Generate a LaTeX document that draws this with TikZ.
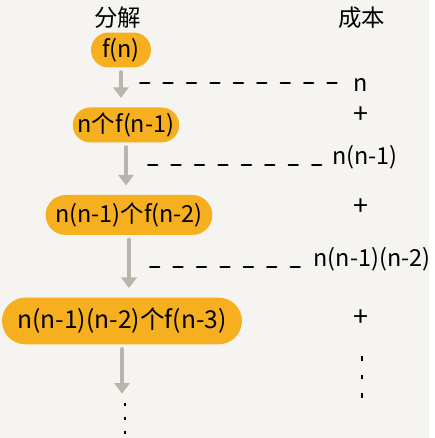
\documentclass[tikz,border=0pt]{standalone}
\usepackage{fontspec}
\setmainfont{Noto Sans CJK SC}
\usetikzlibrary{arrows.meta,shapes.misc}
\definecolor{paper}{HTML}{F5F4F0}
\definecolor{blobcol}{HTML}{F6AF1E}
\definecolor{arrcol}{HTML}{B7B5AC}
\begin{document}
\begin{tikzpicture}[x=0.3mm, y=-0.3mm, font=\fontsize{20}{24}\selectfont, line cap=round,
  blob/.style={fill=blobcol, rounded rectangle, inner sep=0pt},
  down/.style={arrcol, line width=3.8pt, -{Triangle[width=13pt,length=9pt]}, shorten <=4pt, shorten >=8pt},
  costline/.style={dash pattern=on 8pt off 12pt, line width=1.6pt, shorten >=2pt},
  dots/.style={line cap=butt, line width=1.8pt}]
\fill[paper] (0,0) rectangle (429,438);
% headings
\node (h1) at (118,18) {分解};
\node (h2) at (362,18) {成本};
% decomposition
\node[blob, minimum width=18mm, minimum height=10.5mm] (e1) at (121,50) {f(n)};
\node[blob, minimum width=31mm, minimum height=10.5mm] (e2) at (126,125) {n个f(n-1)};
\node[blob, minimum width=50mm, minimum height=12mm] (e3) at (129,215) {n(n-1)个f(n-2)};
\node[blob, minimum width=72mm, minimum height=14mm, font=\fontsize{21}{24}\selectfont] (e4) at (122,321) {n(n-1)(n-2)个f(n-3)};
\coordinate (d) at (125,403);
\draw[down] (e1.south) -- (e1.south |- e2.north);
\draw[down] (e2.south) -- (e2.south |- e3.north);
\draw[down] (e3.south) -- (e3.south |- e4.north);
\draw[down] (e4.south) -- (e4.south |- d);
\draw[dots, dash pattern=on 2.5pt off 9.5pt] (d) -- ++(0,34);
% cost
\node (c1) at (361,85) {n};
\node (c2) at (365,157) {n(n-1)};
\node (c3) at (372,259) {n(n-1)(n-2)};
\foreach \y [count=\i] in {115,207,318}
  \node[font=\fontsize{23}{24}\selectfont] (p\i) at (361,\y) {+};
\coordinate (s1) at (140,83);
\coordinate (s2) at (148,165);
\coordinate (s3) at (150,267);
\foreach \i in {1,2,3}
  \draw[costline] (s\i) -- (s\i -| c\i.west);
\draw[dots, dash pattern=on 4pt off 12pt] (362,356) -- ++(0,44);
\end{tikzpicture}
\end{document}
